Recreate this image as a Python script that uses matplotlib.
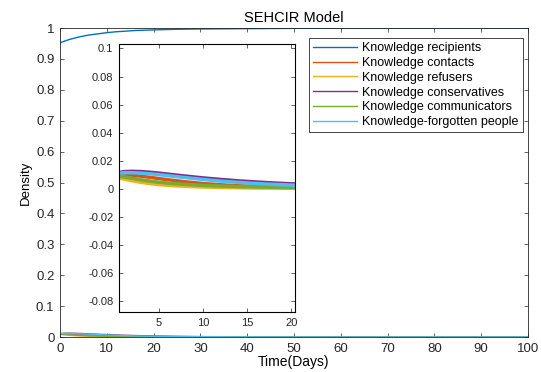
import numpy as np
import matplotlib
matplotlib.use("Agg")
import matplotlib.pyplot as plt

plt.rcParams['font.family'] = ['Liberation Sans', 'DejaVu Sans']

# time grid (days) and densities of each group
t = [0, 1, 2, 3, 4, 5, 6, 8, 10, 12, 14, 16, 18, 20, 25, 30, 40, 50, 60, 70, 80, 90, 100]

recipients = [0.952, 0.958, 0.963, 0.967, 0.971, 0.974, 0.977, 0.981, 0.985, 0.988, 0.990, 0.992,
              0.993, 0.994, 0.996, 0.997, 0.998, 0.999, 0.9995, 0.9998, 0.9999, 1.0, 1.0]
contacts = [0.0098, 0.0100, 0.0096, 0.0089, 0.0081, 0.0072, 0.0064, 0.0049, 0.0037, 0.0028, 0.0021, 0.0016,
            0.0013, 0.0010, 0.0005, 0.0003, 0.0001, 0.00004, 0.00002, 0.00001, 0.0, 0.0, 0.0]
refusers = [0.0082, 0.0070, 0.0056, 0.0045, 0.0036, 0.0029, 0.0024, 0.0017, 0.0012, 0.0009, 0.0007, 0.0005,
            0.0004, 0.0003, 0.00015, 0.0001, 0.00004, 0.00002, 0.00001, 0.0, 0.0, 0.0, 0.0]
conservatives = [0.0110, 0.0122, 0.0124, 0.0122, 0.0117, 0.0111, 0.0104, 0.0090, 0.0077, 0.0066, 0.0056, 0.0048,
                 0.0041, 0.0035, 0.0022, 0.0014, 0.0006, 0.00025, 0.0001, 0.00004, 0.00002, 0.00001, 0.0]
communicators = [0.0092, 0.0085, 0.0074, 0.0063, 0.0054, 0.0046, 0.0040, 0.0031, 0.0024, 0.0019, 0.0015, 0.0012,
                 0.0010, 0.0008, 0.0004, 0.0002, 0.00008, 0.00003, 0.00001, 0.0, 0.0, 0.0, 0.0]
forgotten = [0.0108, 0.0114, 0.0114, 0.0111, 0.0106, 0.0100, 0.0093, 0.0079, 0.0066, 0.0054, 0.0045, 0.0037,
             0.0031, 0.0026, 0.0016, 0.0010, 0.0004, 0.00015, 0.00006, 0.00002, 0.00001, 0.0, 0.0]

labels = ['Knowledge recipients', 'Knowledge contacts', 'Knowledge refusers',
          'Knowledge conservatives', 'Knowledge communicators', 'Knowledge-forgotten people']
colors = ['#0072BD', '#D95319', '#EDB120', '#7E2F8E', '#77AC30', '#4DBEEE']
series = [recipients, contacts, refusers, conservatives, communicators, forgotten]

fig = plt.figure(figsize=(5.41, 3.72), dpi=100)
ax = fig.add_axes([0.1109, 0.094, 0.865, 0.8306])

for y, c, lab in zip(series, colors, labels):
    ax.plot(t, y, color=c, lw=1.0, label=lab)

ax.set_xlim(0, 100)
ax.set_ylim(0, 1)
ax.set_xticks(np.arange(0, 101, 10))
ax.set_yticks(np.arange(0, 1.01, 0.1))
ax.set_yticklabels(['0', '0.1', '0.2', '0.3', '0.4', '0.5', '0.6', '0.7', '0.8', '0.9', '1'])
ax.tick_params(direction='in', top=True, right=True, labelsize=9.5, length=3, width=0.5,
               colors='#262626', pad=4)
for s in ax.spines.values():
    s.set_linewidth(0.6)
    s.set_color('#262626')
ax.set_title('SEHCIR Model', fontsize=10.5, pad=4)
ax.set_xlabel('Time(Days)', fontsize=10, labelpad=0)
ax.set_ylabel('Density', fontsize=9.5, labelpad=3)

leg = ax.legend(loc='upper right', bbox_to_anchor=(0.989, 0.968), borderaxespad=0,
                fontsize=9, handlelength=3.5, labelspacing=0.22, fancybox=False,
                framealpha=1, edgecolor='#262626', borderpad=0.35, handletextpad=0.4)
leg.get_frame().set_linewidth(0.6)

# zoomed view of the first 20 days
ins = fig.add_axes([0.22, 0.161, 0.325, 0.72])
for y, c in zip(series, colors):
    ins.plot(t, y, color=c, lw=2.5)
ins.set_xlim(0.45, 20.4)
ins.set_ylim(-0.088, 0.103)
ins.set_xticks([5, 10, 15, 20])
ins.set_yticks(np.arange(-0.08, 0.101, 0.02))
ins.set_yticklabels(['-0.08', '-0.06', '-0.04', '-0.02', '0', '0.02', '0.04', '0.06', '0.08', '0.1'])
ins.tick_params(direction='in', top=True, right=True, labelsize=8, length=3, width=0.5,
                colors='#262626', pad=4)
for s in ins.spines.values():
    s.set_linewidth(0.8)
    s.set_color('black')

fig.savefig('out.png', dpi=100)
